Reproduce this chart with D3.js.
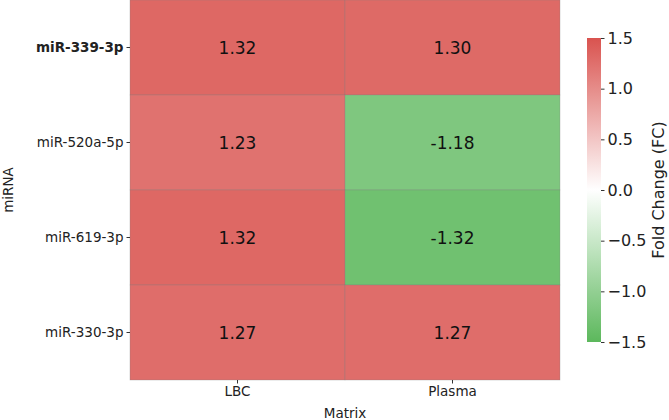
<!DOCTYPE html>
<html>
<head>
<meta charset="utf-8">
<script src="https://cdn.jsdelivr.net/npm/d3@7"></script>
<style>
  body { margin: 0; background: #fff; }
  svg { display: block; font-family: "DejaVu Sans", sans-serif; }
</style>
</head>
<body>
<div id="chart"></div>
<script>
// heatmap data
const mirnas = ["miR-339-3p", "miR-520a-5p", "miR-619-3p", "miR-330-3p"]
const matrices = ["LBC", "Plasma"]
const lbcFC = [1.32, 1.23, 1.32, 1.27]
const plasmaFC = [1.30, -1.18, -1.32, 1.27]
const cbarTicks = [1.5, 1.0, 0.5, 0.0, -0.5, -1.0, -1.5]
const boldRow = "miR-339-3p"

const width = 669
const height = 420
const mLeft = 130, mRight = 560, mTop = 0, mBottom = 380

const svg = d3.select("#chart").append("svg")
  .attr("width", width)
  .attr("height", height)

const x = d3.scaleBand().domain(matrices).range([mLeft, mRight])
const y = d3.scaleBand().domain(mirnas).range([mTop, mBottom])

const color = d3.scaleLinear()
  .domain([-1.5, 0, 1.5])
  .range(["#5cb85c", "#ffffff", "#d9534f"])
  .clamp(true)

const cells = []
mirnas.forEach((m, i) => {
  cells.push({ row: m, col: "LBC", v: lbcFC[i] })
  cells.push({ row: m, col: "Plasma", v: plasmaFC[i] })
})

svg.append("g").selectAll("rect")
  .data(cells)
  .join("rect")
  .attr("x", d => x(d.col))
  .attr("y", d => y(d.row))
  .attr("width", x.bandwidth())
  .attr("height", y.bandwidth())
  .attr("fill", d => color(d.v))
  .attr("stroke", "rgba(128,128,128,0.5)")
  .attr("stroke-width", 0.6)

svg.append("g").selectAll("text")
  .data(cells)
  .join("text")
  .attr("x", d => x(d.col) + x.bandwidth() / 2)
  .attr("y", d => y(d.row) + y.bandwidth() / 2)
  .attr("text-anchor", "middle")
  .attr("dominant-baseline", "central")
  .attr("font-size", "17px")
  .attr("fill", "#111")
  .text(d => d.v.toFixed(2))

// axes
const yAxis = svg.append("g")
  .attr("transform", `translate(${mLeft},0)`)
  .call(d3.axisLeft(y).tickSize(3.5).tickPadding(3))
yAxis.select(".domain").remove()
yAxis.selectAll(".tick line").attr("stroke", "#333")
yAxis.selectAll(".tick text")
  .attr("font-size", "13.5px")
  .attr("font-family", "DejaVu Sans")
  .attr("fill", "#222")
  .attr("font-weight", d => d === boldRow ? "bold" : "normal")

const xAxis = svg.append("g")
  .attr("transform", `translate(0,${mBottom})`)
  .call(d3.axisBottom(x).tickSize(3.5).tickPadding(3))
xAxis.select(".domain").remove()
xAxis.selectAll(".tick line").attr("stroke", "#333")
xAxis.selectAll(".tick text")
  .attr("font-size", "13.5px")
  .attr("font-family", "DejaVu Sans")
  .attr("fill", "#222")

svg.append("text")
  .attr("x", (mLeft + mRight) / 2)
  .attr("y", 418)
  .attr("text-anchor", "middle")
  .attr("font-size", "13.5px")
  .attr("fill", "#222")
  .text("Matrix")

svg.append("text")
  .attr("transform", `translate(13,${(mTop + mBottom) / 2}) rotate(-90)`)
  .attr("text-anchor", "middle")
  .attr("font-size", "13.5px")
  .attr("fill", "#222")
  .text("miRNA")

// colorbar
const cbX = 587, cbW = 14, cbTop = 38, cbBottom = 342
const cy = d3.scaleLinear().domain([-1.5, 1.5]).range([cbBottom, cbTop])

const defs = svg.append("defs")
const grad = defs.append("linearGradient")
  .attr("id", "fcgrad")
  .attr("x1", 0).attr("y1", 1).attr("x2", 0).attr("y2", 0)
d3.range(0, 1.0001, 0.1).forEach(t => {
  grad.append("stop")
    .attr("offset", t)
    .attr("stop-color", color(-1.5 + 3 * t))
})

svg.append("rect")
  .attr("x", cbX)
  .attr("y", cbTop)
  .attr("width", cbW)
  .attr("height", cbBottom - cbTop)
  .attr("fill", "url(#fcgrad)")

const cAxis = svg.append("g")
  .attr("transform", `translate(${cbX + cbW},0)`)
  .call(d3.axisRight(cy).tickValues(cbarTicks).tickSize(3.5).tickPadding(3)
    .tickFormat(d => d3.format(".1f")(d).replace("-", "\u2212")))
cAxis.select(".domain").remove()
cAxis.selectAll(".tick line").attr("stroke", "#333")
cAxis.selectAll(".tick text")
  .attr("font-size", "16px")
  .attr("font-family", "DejaVu Sans")
  .attr("fill", "#222")

svg.append("text")
  .attr("transform", `translate(658,${(cbTop + cbBottom) / 2}) rotate(-90)`)
  .attr("text-anchor", "middle")
  .attr("dominant-baseline", "central")
  .attr("font-size", "16px")
  .attr("fill", "#222")
  .text("Fold Change (FC)")
</script>
</body>
</html>
